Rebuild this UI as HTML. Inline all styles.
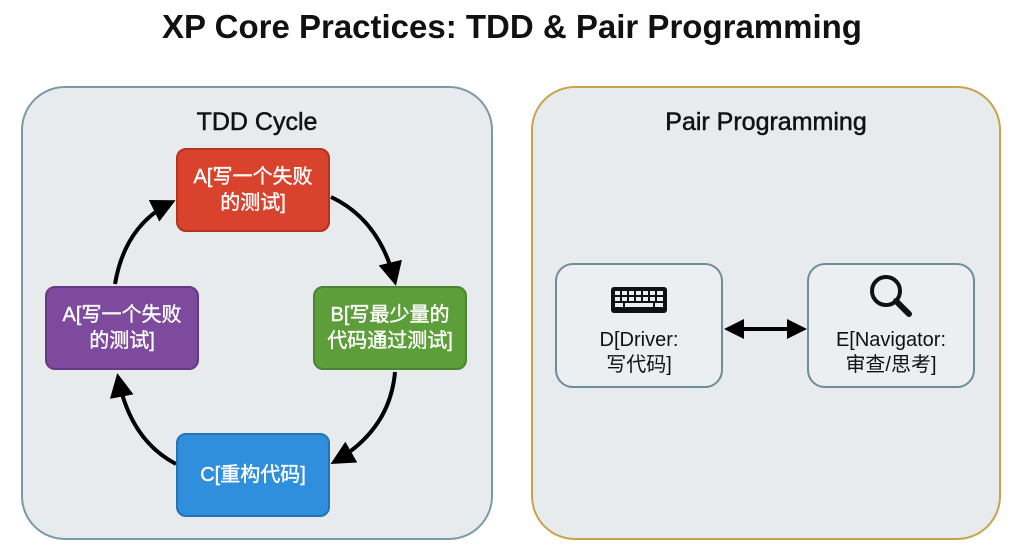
<!DOCTYPE html>
<html><head><meta charset="utf-8"><style>
body{margin:0;width:1024px;height:559px;background:#fff;position:relative;overflow:hidden;font-family:"Liberation Sans","Noto Sans CJK SC",sans-serif}
.t{position:absolute;left:0;width:1024px;text-align:center;top:8px;font-size:33px;font-weight:bold;color:#111}
.p{position:absolute;top:86px;height:454px;border-radius:44px;background:#e8ebee;box-sizing:border-box}
.h{position:absolute;width:100%;text-align:center;top:20px;font-size:25px;color:#111;-webkit-text-stroke:0.5px #111}
.n{position:absolute;width:154px;height:84px;border-radius:10px;box-sizing:border-box;color:#fff;font-size:20px;line-height:26px;display:flex;align-items:center;justify-content:center;text-align:center;-webkit-text-stroke:0.4px #fff}
.w{position:absolute;top:263px;height:125px;border:2px solid #6e8d96;border-radius:18px;background:#eceff1;box-sizing:border-box;text-align:center;font-size:20px;line-height:25px;color:#111}
</style></head><body>
<div class="t">XP Core Practices: TDD &amp; Pair Programming</div>
<div class="p" style="left:21px;width:472px;border:2px solid #7a9aa4"><div class="h">TDD Cycle</div></div>
<div class="p" style="left:531px;width:470px;border:2px solid #c9a24a"><div class="h">Pair Programming</div></div>
<svg style="position:absolute;left:0;top:0" width="1024" height="559">
<defs><marker id="a" markerWidth="6" markerHeight="6" refX="5" refY="3" orient="auto" markerUnits="strokeWidth"><path d="M0,0 L6,3 L0,6 Z" fill="#000"/></marker>
<marker id="b" markerWidth="5" markerHeight="5" refX="4" refY="2.5" orient="auto" markerUnits="strokeWidth"><path d="M0,0 L5,2.5 L0,5 Z" fill="#000"/></marker>
<marker id="c" markerWidth="5" markerHeight="5" refX="1" refY="2.5" orient="auto" markerUnits="strokeWidth"><path d="M5,0 L0,2.5 L5,5 Z" fill="#000"/></marker></defs>
<g fill="none" stroke="#000" stroke-width="4">
<path d="M331,197 Q380,220 395,282" marker-end="url(#a)"/>
<path d="M395,372 Q390,430 334,462" marker-end="url(#a)"/>
<path d="M176,464 Q130,440 118,377" marker-end="url(#a)"/>
<path d="M115,284 Q125,225 172,202" marker-end="url(#a)"/>
<path d="M728,329 L803,329" stroke-width="4" marker-end="url(#b)" marker-start="url(#c)"/>
</g>
</svg>
<div class="n" style="left:176px;top:148px;background:#d9432e;border:2px solid #b3331f">A[写一个失败<br>的测试]</div>
<div class="n" style="left:45px;top:286px;background:#7e4a9e;border:2px solid #653a82">A[写一个失败<br>的测试]</div>
<div class="n" style="left:313px;top:286px;background:#5d9e3a;border:2px solid #4a8430">B[写最少量的<br>代码通过测试]</div>
<div class="n" style="left:176px;top:433px;background:#2f8fdc;border:2px solid #2373b5">C[重构代码]</div>
<div class="w" style="left:555px;width:168px">
<svg width="60" height="32" style="margin-top:20px"><rect x="2" y="2" width="56" height="26" rx="3" fill="#111"/><g fill="#eceff1"><rect x="6" y="6" width="5" height="4"/><rect x="13" y="6" width="5" height="4"/><rect x="20" y="6" width="5" height="4"/><rect x="27" y="6" width="5" height="4"/><rect x="34" y="6" width="5" height="4"/><rect x="41" y="6" width="5" height="4"/><rect x="48" y="6" width="6" height="4"/><rect x="6" y="12" width="5" height="4"/><rect x="13" y="12" width="5" height="4"/><rect x="20" y="12" width="5" height="4"/><rect x="27" y="12" width="5" height="4"/><rect x="34" y="12" width="5" height="4"/><rect x="41" y="12" width="5" height="4"/><rect x="48" y="12" width="6" height="4"/><rect x="6" y="18" width="8" height="4"/><rect x="16" y="18" width="28" height="4"/><rect x="46" y="18" width="8" height="4"/></g></svg>
<div style="margin-top:4px">D[Driver:<br>写代码]</div></div>
<div class="w" style="left:807px;width:168px">
<svg width="50" height="50" style="margin-top:6px"><circle cx="20" cy="20" r="14" fill="none" stroke="#111" stroke-width="4"/><line x1="30" y1="30" x2="43" y2="43" stroke="#111" stroke-width="6" stroke-linecap="round"/></svg>
<div style="margin-top:0px">E[Navigator:<br>审查/思考]</div></div>
</body></html>
